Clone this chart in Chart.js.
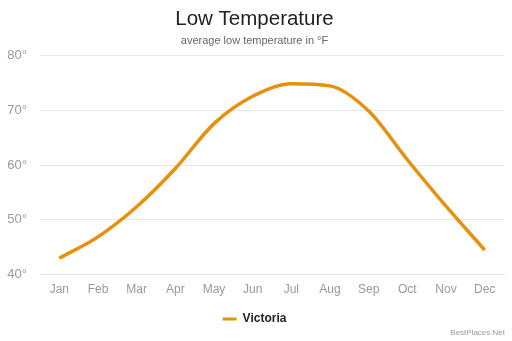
<!DOCTYPE html>
<html>
<head>
<meta charset="utf-8">
<script src="https://cdn.jsdelivr.net/npm/chart.js@4/dist/chart.umd.min.js"></script>
<style>
  html, body { margin: 0; padding: 0; background: #fff; }
  #wrap { position: relative; width: 512px; height: 341px; }
  #credit { position: absolute; right: 7px; bottom: 4px; font: 8px "Liberation Sans", Arial, sans-serif; color: #999; }
</style>
</head>
<body>
<div id="wrap">
  <canvas id="c" width="512" height="341"></canvas>
  <div id="credit">BestPlaces.Net</div>
</div>
<script>
const months = ["Jan","Feb","Mar","Apr","May","Jun","Jul","Aug","Sep","Oct","Nov","Dec"];
const victoriaLow = [43, 46.9, 52.4, 59.4, 67.6, 72.6, 74.9, 74.5, 69.9, 61, 52.5, 44.5];
const yTicks = [40, 50, 60, 70, 80];
const seriesName = "Victoria";
const lineColor = "#e8900c";

Chart.defaults.font.family = '"Liberation Sans", Arial, sans-serif';

new Chart(document.getElementById("c"), {
  type: "line",
  data: {
    labels: months,
    datasets: [{
      label: seriesName,
      data: victoriaLow,
      borderColor: lineColor,
      backgroundColor: lineColor,
      borderWidth: 3.5,
      pointRadius: 0,
      tension: 0.4,
      cubicInterpolationMode: "monotone",
      fill: false
    }]
  },
  options: {
    responsive: false,
    animation: false,
    layout: { padding: { left: 5, right: 8, top: 4, bottom: 6 } },
    plugins: {
      title: {
        display: true,
        text: "Low Temperature",
        color: "#222",
        font: { size: 20.5, weight: "normal" },
        padding: { top: 3, bottom: 3 }
      },
      subtitle: {
        display: true,
        text: "average low temperature in °F",
        color: "#666",
        font: { size: 11 },
        padding: { bottom: 8 }
      },
      legend: {
        position: "bottom",
        labels: {
          boxWidth: 14,
          boxHeight: 3,
          color: "#222",
          font: { size: 12, weight: "bold" },
          padding: 8,
          generateLabels: (chart) => {
            const items = Chart.defaults.plugins.legend.labels.generateLabels(chart);
            items.forEach(it => { it.lineWidth = 0; it.strokeStyle = "rgba(0,0,0,0)"; });
            return items;
          }
        }
      },
      tooltip: { enabled: false }
    },
    scales: {
      x: {
        offset: true,
        grid: { display: false, drawTicks: false },
        border: { color: "#e6e6e6" },
        ticks: { color: "#999", font: { size: 12 }, padding: 8 }
      },
      y: {
        min: 40,
        max: 80,
        afterBuildTicks: (axis) => { axis.ticks = yTicks.map(v => ({ value: v })); },
        afterFit: (axis) => { axis.width = 35; },
        grid: { color: "#e6e6e6", drawTicks: false },
        border: { display: false },
        ticks: { color: "#999", font: { size: 13 }, padding: 13, callback: v => v + "°" }
      }
    }
  }
});
</script>
</body>
</html>
